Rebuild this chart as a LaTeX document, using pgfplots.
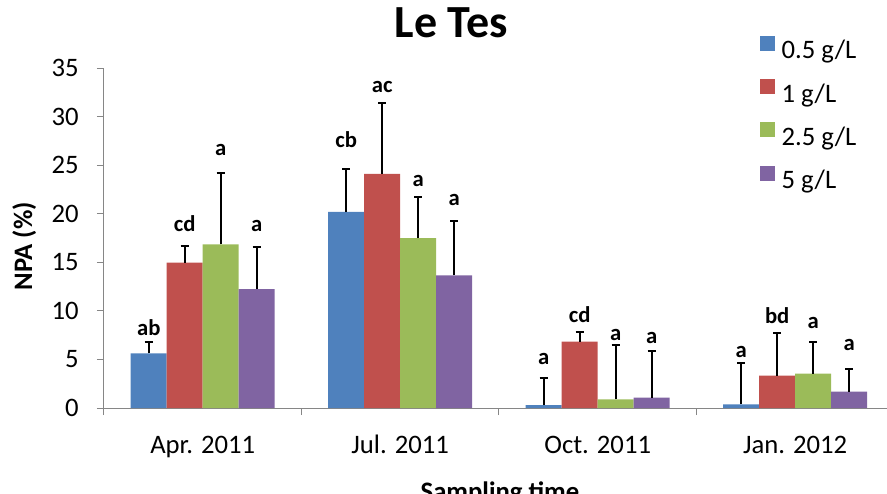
\documentclass[border=0pt]{standalone}
\usepackage{pgfplots}
\pgfplotsset{compat=1.18}
\usepackage{pgfplotstable}
\usepackage{fontspec}
\setmainfont{Carlito}
\definecolor{cblue}{HTML}{4F81BD}
\definecolor{cred}{HTML}{C0504D}
\definecolor{cgreen}{HTML}{9BBB59}
\definecolor{cpurple}{HTML}{8064A2}
\definecolor{axgray}{HTML}{868686}
\pgfplotstableread{
x y err ly lab
0 5.63 1.13 7.51 ab
1 20.20 4.44 26.83 cb
2 0.30 2.82 4.43 a
3 0.38 4.28 5.22 a
}\tblue
\pgfplotstableread{
x y err ly lab
0 14.96 1.72 18.15 cd
1 24.09 7.34 32.50 ac
2 6.83 1.03 8.78 cd
3 3.33 4.39 8.72 bd
}\tred
\pgfplotstableread{
x y err ly lab
0 16.85 7.34 26.04 a
1 17.50 4.25 22.78 a
2 0.89 5.60 6.90 a
3 3.53 3.26 8.20 a
}\tgreen
\pgfplotstableread{
x y err ly lab
0 12.25 4.32 18.15 a
1 13.66 5.59 20.83 a
2 1.06 4.81 6.66 a
3 1.68 2.30 5.97 a
}\tpurple
\newcommand\tickfont{\fontsize{20}{24}\selectfont}
\newcommand\lblfont{\fontsize{17}{20}\selectfont\bfseries}
\pgfplotsset{
  errstyle/.style={
    /pgfplots/error bars/y dir=plus,
    /pgfplots/error bars/y explicit,
    /pgfplots/error bars/error mark=-,
    /pgfplots/error bars/error bar style={draw=black, line width=1.3pt},
    /pgfplots/error bars/error mark options={rotate=90, draw=black, line width=1.3pt, mark size=3pt}},
  lblstyle/.style={
    /pgfplots/nodes near coords, /pgfplots/point meta=explicit symbolic,
    /pgfplots/visualization depends on={(\thisrow{ly}-\thisrow{y})*7.285714 \as \dly},
    /pgfplots/nodes near coords style={anchor=base, inner sep=0pt, font=\lblfont, text=black, yshift=\dly pt}},
}
\begin{document}
\begin{tikzpicture}
\path[use as bounding box] (-78pt,-63.75pt) rectangle (587.25pt,306pt);
\begin{axis}[
  at={(0,0)}, anchor=south west,
  scale only axis, width=587.25pt, height=255pt,
  ybar=0pt, bar width=27pt,
  xmin=-0.5, xmax=3.465, ymin=0, ymax=35,
  ytick={0,5,...,35},
  xtick={0,1,2,3},
  xticklabels={Apr. 2011, Jul. 2011, Oct. 2011, Jan. 2012},
  minor xtick={-0.5,0.5,1.5,2.5},
  major x tick style={draw=none},
  minor x tick style={draw=axgray, line width=0.75pt},
  y tick style={draw=axgray, line width=0.75pt},
  major tick length=5.25pt, minor tick length=5.25pt,
  tick align=outside,
  axis lines*=left,
  axis line style={draw=axgray, line width=0.75pt},
  /pgf/number format/assume math mode=true,
  tick label style={font=\tickfont},
  yticklabel style={anchor=east, inner sep=0pt, xshift=-13.5pt},
  xticklabel style={anchor=base, inner sep=0pt, yshift=-28.5pt},
  title={Le Tes},
  title style={at={(axis description cs:0.444,1.0676)}, anchor=base, inner sep=0pt, font=\fontsize{34.5}{40}\selectfont\bfseries},
  ylabel={NPA (\%)},
  ylabel style={at={(axis description cs:-0.102,0.476)}, anchor=center, rotate=0, font=\tickfont\bfseries},
  xlabel={Sampling time},
  xlabel style={at={(axis description cs:0.5057,-0.2735)}, anchor=base, inner sep=0pt, font=\tickfont\bfseries},
  legend style={at={(axis description cs:0.8378,1.095)}, anchor=north west, draw=none, fill=none,
    inner sep=0pt, outer sep=0pt, font=\tickfont, row sep=11.25pt,
    nodes={inner sep=0pt, text height=14pt, text depth=4pt},
    /tikz/every odd column/.append style={column sep=5pt}},
  legend cell align=left,
  legend image code/.code={\fill[#1] (0pt,1pt) rectangle (11.25pt,12.25pt);},
  clip=false,
]
\addplot[fill=cblue, draw=none, lblstyle, errstyle]
  table[x=x, y=y, y error=err, meta=lab] {\tblue};
\addlegendentry{0.5 g/L}
\addplot[fill=cred, draw=none, lblstyle, errstyle]
  table[x=x, y=y, y error=err, meta=lab] {\tred};
\addlegendentry{1 g/L}
\addplot[fill=cgreen, draw=none, lblstyle, errstyle]
  table[x=x, y=y, y error=err, meta=lab] {\tgreen};
\addlegendentry{2.5 g/L}
\addplot[fill=cpurple, draw=none, lblstyle, errstyle]
  table[x=x, y=y, y error=err, meta=lab] {\tpurple};
\addlegendentry{5 g/L}
\end{axis}
\end{tikzpicture}
\end{document}
